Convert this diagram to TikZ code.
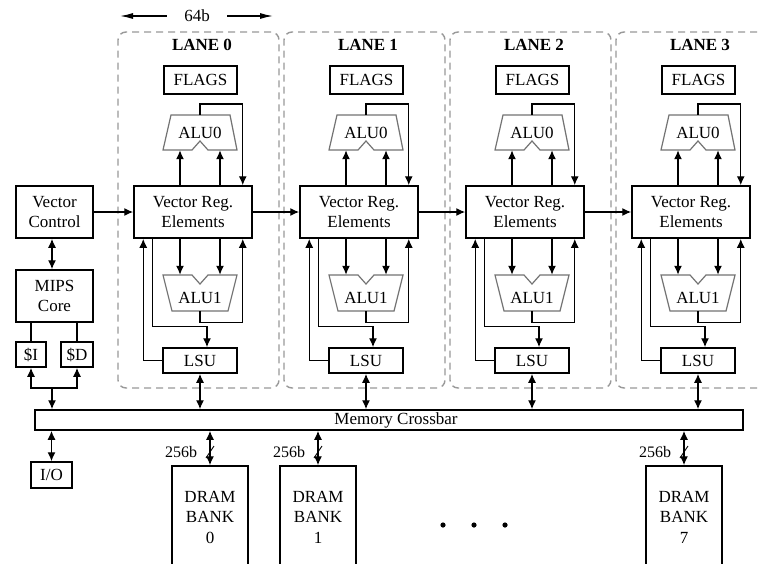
\documentclass[tikz,border=0pt]{standalone}
\usepackage{fontspec}
\setmainfont{Liberation Serif}
\usetikzlibrary{arrows.meta, positioning}

\tikzset{
    box/.style={draw, line width=1.5pt, inner sep=0pt, align=center},
    lanebox/.style={draw=black!40, dash pattern=on 7pt off 5pt, line width=1.4pt, rounded corners=8pt},
    alushape/.style={draw=black!55, line width=1.2pt},
    arr/.style={-{Latex[length=9pt,width=8pt]}, line width=1.4pt},
    dblarr/.style={{Latex[length=9pt,width=8pt]}-{Latex[length=9pt,width=8pt]}, line width=1.4pt},
    widearr/.style={-{Latex[length=13pt,width=6pt]}, line width=1.3pt},
    smalltxt/.style={font=\fontsize{16}{18}\selectfont},
}

\begin{document}
\begin{tikzpicture}[x=1pt, y=-1pt, font=\fontsize{17}{20.5}\selectfont]
    \clip (0,0) rectangle (762,563);
    \fill[white] (0,0) rectangle (762,563);

    % Memory crossbar
    \node[box, minimum width=708pt, minimum height=20pt] (xbar) at (389,420) {};
    \node (xbartxt) at (396,420) {Memory Crossbar};

    % Lane width
    \node (w64) at (197,16) {64b};
    \coordinate (wl) at (120,16);
    \coordinate (wr) at (273,16);
    \draw[widearr] ([xshift=-14pt]w64.west) -- (wl);
    \draw[widearr] ([xshift=14pt]w64.east) -- (wr);

    % Lanes
    \foreach \i in {0,...,3} {
        \begin{scope}[xshift=\i*166pt]
            \node[lanebox, minimum width=161pt, minimum height=356pt] (lane\i) at (198.5,210) {};
            \node[font=\fontsize{17}{20}\selectfont\bfseries] (lanelbl\i) at (202,45) {LANE \i};
            \node[box, minimum width=73pt, minimum height=28pt] (flags\i) at (200.5,80) {FLAGS};
            \node[box, minimum width=118pt, minimum height=52pt] (vre\i) at (193,212) {Vector Reg.\\Elements};
            \node[box, minimum width=74pt, minimum height=25pt] (lsu\i) at (200,360.5) {LSU};
            % ALUs
            \node[inner sep=0pt, minimum width=74pt, minimum height=35pt] (alua\i) at (200,132.5) {ALU0};
            \node[inner sep=0pt, minimum width=74pt, minimum height=36pt,
                label={[yshift=-5pt]center:ALU1}] (alub\i) at (200,293) {};
            \draw[alushape] (171,115) -- (230,115) -- (237,150) -- (208,150) -- (200,141)
                -- (192,150) -- (163,150) -- cycle;
            \draw[alushape] (163,275) -- (192,275) -- (200,284) -- (208,275) -- (237,275)
                -- (228,311) -- (172,311) -- cycle;
            % Datapath
            \draw[arr] ([xshift=-13pt]vre\i.north) -- ([xshift=-20pt]alua\i.south);
            \draw[arr] ([xshift=27pt]vre\i.north) -- ([xshift=20pt]alua\i.south);
            \draw[arr] (alua\i.north) -- ++(0,-11) -| ([xshift=-10pt]vre\i.north east);
            \draw[arr] ([xshift=-13pt]vre\i.south) -- ([xshift=-20pt]alub\i.north);
            \draw[arr] ([xshift=27pt]vre\i.south) -- ([xshift=20pt]alub\i.north);
            \draw[arr] (alub\i.south) -- ++(0,11) -| ([xshift=-10pt]vre\i.south east);
            \draw[arr] ([xshift=19pt]vre\i.south west) -- ++(0,88) -| ([xshift=7pt]lsu\i.north);
            \draw[arr] (lsu\i.west) -| ([xshift=10pt]vre\i.south west);
            \draw[dblarr] (lsu\i.south) -- (lsu\i.south |- xbar.north);
        \end{scope}
    }
    \foreach \i [count=\j from 1] in {0,1,2} {
        \draw[arr] (vre\i.east) -- (vre\j.west);
    }

    % Scalar core
    \node[box, minimum width=77pt, minimum height=52pt] (vc) at (54.5,212) {Vector\\Control};
    \node[box, minimum width=77pt, minimum height=52pt] (mips) at (54.5,296) {MIPS\\Core};
    \node[box, minimum width=30pt, minimum height=25pt] (icache) at (31,354.5) {\$I};
    \node[box, minimum width=32pt, minimum height=25pt] (dcache) at (77,354.5) {\$D};
    \node[box, minimum width=41pt, minimum height=26pt] (io) at (51.5,475) {I/O};
    \coordinate (cbus) at (52,388);

    \draw[arr] (vc.east) -- (vre0.west);
    \draw[dblarr] ([xshift=-2.5pt]vc.south) -- ([xshift=-2.5pt]mips.north);
    \draw[line width=1.4pt] (icache.north |- mips.south) -- (icache.north);
    \draw[line width=1.4pt] (dcache.north |- mips.south) -- (dcache.north);
    \draw[arr] (cbus) -| (icache.south);
    \draw[arr] (cbus) -| (dcache.south);
    \draw[arr] (cbus) -- (cbus |- xbar.north);
    \draw[dblarr] (io.north) -- (io.north |- xbar.south);

    % DRAM banks
    \foreach \b/\bx in {0/210, 1/318, 7/684} {
        \node[box, minimum width=76pt, minimum height=102pt] (bank\b) at (\bx,517) {DRAM\\BANK\\\b};
        \node[smalltxt] (bw\b) at (\bx-29,452) {256b};
        \draw[dblarr] (bank\b.north) -- (bank\b.north |- xbar.south);
        \draw[line width=0.9pt] (\bx-4,458) -- (\bx+4,446);
    }
    \foreach \dx in {443,474,505} {
        \fill (\dx,525) circle (2.6);
    }
\end{tikzpicture}
\end{document}
